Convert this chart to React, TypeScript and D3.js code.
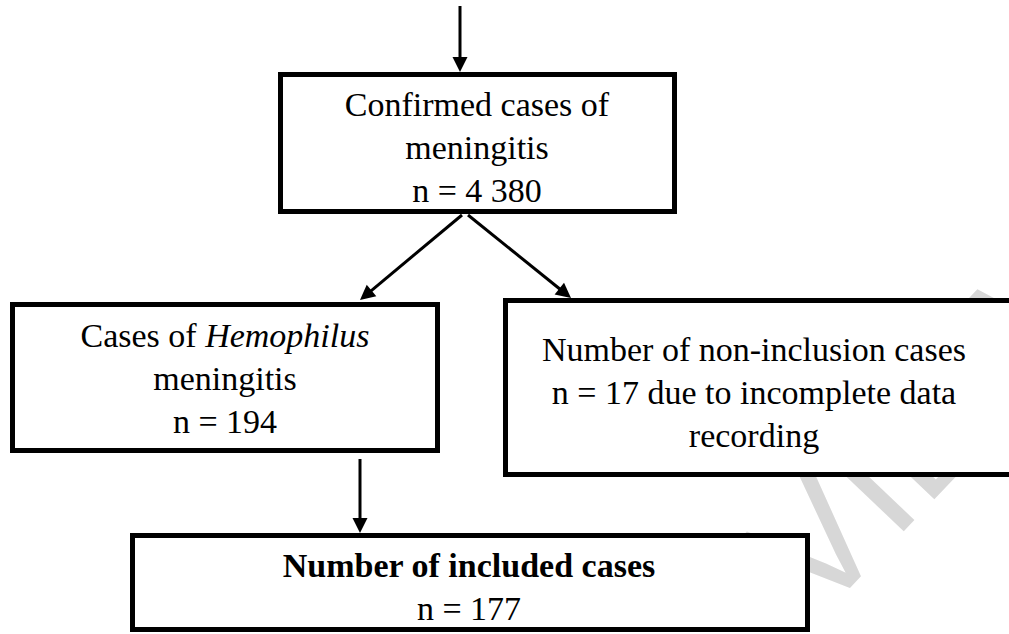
import React, { useEffect, useRef } from "react";
import * as d3 from "d3";

// ---- data ----
const STAGE_IDS = ["confirmed", "hemophilus", "nonIncluded", "included"];
const STAGE_COUNTS = [4380, 194, 17, 177];
const LINKS: [string, string][] = [
  ["entry", "confirmed"],
  ["confirmed", "hemophilus"],
  ["confirmed", "nonIncluded"],
  ["hemophilus", "included"],
];
const WATERMARK_TEXT = "VIEW";

const fmt = d3
  .formatLocale({ decimal: ".", thousands: " ", grouping: [3], currency: ["", ""] })
  .format(",");

type Seg = { text: string; italic?: boolean; bold?: boolean };
const STAGE_LINES: Seg[][][] = [
  [[{ text: "Confirmed cases of" }], [{ text: "meningitis" }], [{ text: `n = ${fmt(STAGE_COUNTS[0])}` }]],
  [
    [{ text: "Cases of " }, { text: "Hemophilus", italic: true }],
    [{ text: "meningitis" }],
    [{ text: `n = ${fmt(STAGE_COUNTS[1])}` }],
  ],
  [
    [{ text: "Number of non-inclusion cases" }],
    [{ text: `n = ${fmt(STAGE_COUNTS[2])} due to incomplete data` }],
    [{ text: "recording" }],
  ],
  [[{ text: "Number of included cases", bold: true }], [{ text: `n = ${fmt(STAGE_COUNTS[3])}` }]],
];

// ---- layout (positions / sizes) ----
const W = 1009;
const H = 634;
const BORDER = 5;
const LAYOUT: Record<string, { x0: number; x1: number; y0: number; y1: number; cx: number; base: number[] }> = {
  confirmed: { x0: 278, x1: 677, y0: 72, y1: 214, cx: 477, base: [116, 159, 202] },
  hemophilus: { x0: 10, x1: 440, y0: 302, y1: 453, cx: 225, base: [347, 390, 433] },
  nonIncluded: { x0: 503, x1: 1014, y0: 298, y1: 477, cx: 754, base: [361, 404, 447] },
  included: { x0: 130, x1: 810, y0: 533, y1: 632, cx: 469, base: [577, 620] },
};
const ARROWS: Record<string, [number, number, number, number]> = {
  "entry-confirmed": [460, 6, 460, 72],
  "confirmed-hemophilus": [462, 215, 360, 300],
  "confirmed-nonIncluded": [468, 215, 571, 298],
  "hemophilus-included": [360, 459, 360, 533],
};

export default function App() {
  const ref = useRef<SVGSVGElement | null>(null);

  useEffect(() => {
    const svg = d3.select(ref.current);
    svg.selectAll("*").remove();

    // faint diagonal watermark (behind the boxes)
    svg
      .append("g")
      .attr("transform", "translate(739.5,703.8) rotate(-46.4)")
      .attr("fill", "#d7d7d7")
      .attr("font-family", "'Liberation Sans', Arial, sans-serif")
      .attr("font-size", 165)
      .append("text")
      .attr("x", 113)
      .attr("y", 0)
      .text(WATERMARK_TEXT);

    // arrows
    const line = d3.line<[number, number]>();
    const ag = svg.append("g");
    LINKS.forEach(([s, t]) => {
      const [x1, y1, x2, y2] = ARROWS[`${s}-${t}`];
      const dx = x2 - x1;
      const dy = y2 - y1;
      const len = Math.hypot(dx, dy);
      const ux = dx / len;
      const uy = dy / len;
      const hl = 15;
      const hw = 7.5;
      const bx = x2 - ux * hl;
      const by = y2 - uy * hl;
      ag.append("path")
        .attr("d", line([[x1, y1], [bx + ux, by + uy]]))
        .attr("stroke", "#000")
        .attr("stroke-width", 3)
        .attr("fill", "none");
      ag.append("path")
        .attr(
          "d",
          line([
            [x2, y2],
            [bx - uy * hw, by + ux * hw],
            [bx + uy * hw, by - ux * hw],
          ]) + "Z"
        )
        .attr("fill", "#000");
    });

    // boxes
    const bg = svg
      .append("g")
      .attr("font-family", "'Liberation Serif', 'Times New Roman', serif")
      .attr("font-size", 34)
      .attr("fill", "#000");
    STAGE_IDS.forEach((id, i) => {
      const L = LAYOUT[id];
      bg.append("rect")
        .attr("x", L.x0 + BORDER / 2)
        .attr("y", L.y0 + BORDER / 2)
        .attr("width", L.x1 - L.x0 - BORDER)
        .attr("height", L.y1 - L.y0 - BORDER)
        .attr("fill", "#fff")
        .attr("stroke", "#000")
        .attr("stroke-width", BORDER);
      STAGE_LINES[i].forEach((segs, j) => {
        const t = bg.append("text").attr("x", L.cx).attr("y", L.base[j]).attr("text-anchor", "middle");
        segs.forEach((s) => {
          t.append("tspan")
            .attr("font-style", s.italic ? "italic" : "normal")
            .attr("font-weight", s.bold ? "bold" : "normal")
            .text(s.text);
        });
      });
    });
  }, []);

  return (
    <svg
      ref={ref}
      width={W}
      height={H}
      viewBox={`0 0 ${W} ${H}`}
      style={{ position: "absolute", left: 0, top: 0, background: "#fff" }}
    />
  );
}
